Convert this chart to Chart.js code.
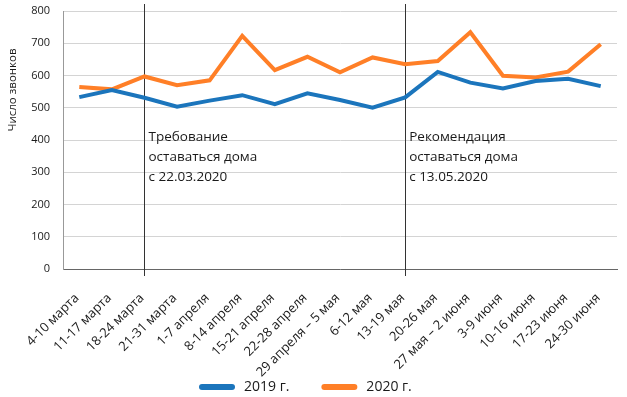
<!DOCTYPE html>
<html>
<head>
<meta charset="utf-8">
<script src="https://cdn.jsdelivr.net/npm/chart.js@4.4.1/dist/chart.umd.min.js"></script>
<style>
  html, body { margin: 0; padding: 0; background: #ffffff; }
  #wrap { width: 627px; height: 397px; }
</style>
</head>
<body>
<div id="wrap"><canvas id="c" width="627" height="397"></canvas></div>
<script>
const categories = [
  '4-10 марта', '11-17 марта', '18-24 марта', '21-31 марта', '1-7 апреля',
  '8-14 апреля', '15-21 апреля', '22-28 апреля', '29 апреля – 5 мая', '6-12 мая',
  '13-19 мая', '20-26 мая', '27 мая – 2 июня', '3-9 июня', '10-16 июня',
  '17-23 июня', '24-30 июня'
];
const calls2019 = [533, 555, 531, 503, 522, 539, 511, 545, 524, 500, 532, 611, 578, 560, 583, 590, 567];
const calls2020 = [564, 557, 597, 570, 585, 723, 617, 658, 610, 656, 635, 645, 734, 599, 594, 612, 697];
const seriesNames = ['2019 г.', '2020 г.'];
const yTitle = 'Число звонков';
const markerIndices = [2, 10];
const markerTexts = [
  ['Требование', 'оставаться дома', 'с 22.03.2020'],
  ['Рекомендация', 'оставаться дома', 'с 13.05.2020']
];

const FONT = '"Open Sans", "DejaVu Sans", sans-serif';
const BLUE = '#1b75bc';
const ORANGE = '#ff7f27';
const TEXT = '#1a1a1a';

function roundRect(ctx, x, y, w, h, r) {
  ctx.beginPath();
  ctx.moveTo(x + r, y);
  ctx.lineTo(x + w - r, y);
  ctx.arc(x + w - r, y + r, r, -Math.PI / 2, Math.PI / 2);
  ctx.lineTo(x + r, y + h);
  ctx.arc(x + r, y + r, r, Math.PI / 2, Math.PI * 1.5);
  ctx.closePath();
}

const markerPlugin = {
  id: 'markers',
  beforeDatasetsDraw(chart) {
    const ctx = chart.ctx;
    const xs = chart.scales.x;
    const area = chart.chartArea;
    ctx.save();
    ctx.strokeStyle = '#333333';
    ctx.lineWidth = 1;
    markerIndices.forEach((idx) => {
      const x = Math.round(xs.getPixelForValue(idx)) + 0.5;
      ctx.beginPath();
      ctx.moveTo(x, area.top - 7);
      ctx.lineTo(x, area.bottom + 7);
      ctx.stroke();
    });
    ctx.restore();
  },
  afterDraw(chart) {
    const ctx = chart.ctx;
    const xs = chart.scales.x;
    const area = chart.chartArea;
    ctx.save();
    ctx.fillStyle = TEXT;
    ctx.font = '13.5px ' + FONT;
    ctx.textBaseline = 'alphabetic';
    ctx.textAlign = 'left';
    markerIndices.forEach((idx, k) => {
      const x = xs.getPixelForValue(idx) + 4;
      markerTexts[k].forEach((line, j) => {
        ctx.fillText(line, x, area.top + 130 + j * 20);
      });
    });
    ctx.restore();

    // y axis title
    ctx.save();
    ctx.translate(13, 90);
    ctx.rotate(-Math.PI / 2);
    ctx.textAlign = 'center';
    ctx.textBaseline = 'middle';
    ctx.font = '11.5px ' + FONT;
    ctx.fillStyle = TEXT;
    ctx.fillText(yTitle, 0, 0);
    ctx.restore();

    // legend
    ctx.save();
    ctx.font = '14px ' + FONT;
    ctx.textBaseline = 'middle';
    ctx.textAlign = 'left';
    const cy = 387;
    const sw = 36, gap = 9, itemGap = 32;
    const items = chart.data.datasets.map((ds) => ({
      text: ds.label, color: ds.borderColor,
      w: sw + gap + ctx.measureText(ds.label).width
    }));
    const total = items.reduce((s, it) => s + it.w, 0) + itemGap * (items.length - 1);
    let x = Math.round((area.left + area.right) / 2 - total / 2) - 35;
    items.forEach((it) => {
      ctx.fillStyle = it.color;
      roundRect(ctx, x, cy - 3, sw, 6, 3);
      ctx.fill();
      ctx.fillStyle = TEXT;
      ctx.fillText(it.text, x + sw + gap, cy);
      x += it.w + itemGap;
    });
    ctx.restore();
  }
};

new Chart(document.getElementById('c'), {
  type: 'line',
  data: {
    labels: categories,
    datasets: [
      {
        label: seriesNames[0],
        data: calls2019,
        borderColor: BLUE,
        backgroundColor: BLUE,
        borderWidth: 4,
        pointRadius: 0,
        tension: 0,
        fill: false
      },
      {
        label: seriesNames[1],
        data: calls2020,
        borderColor: ORANGE,
        backgroundColor: ORANGE,
        borderWidth: 4,
        pointRadius: 0,
        tension: 0,
        fill: false
      }
    ]
  },
  options: {
    responsive: false,
    animation: false,
    devicePixelRatio: 1,
    layout: { padding: { top: 11, right: 10, bottom: 0, left: 0 } },
    plugins: {
      tooltip: { enabled: false },
      title: { display: false },
      legend: { display: false }
    },
    scales: {
      x: {
        offset: true,
        grid: { display: false, drawTicks: false },
        border: { display: true, color: '#666666', width: 1 },
        ticks: {
          autoSkip: false,
          minRotation: 45,
          maxRotation: 45,
          padding: 19,
          color: TEXT,
          font: { family: FONT, size: 13 },
          callback(value, index) { return categories[index] + ' '; }
        },
        afterFit(scale) {
          scale.height = 128;
          scale.paddingRight = 0;
          scale.paddingLeft = 0;
        }
      },
      y: {
        min: 0,
        max: 800,
        grid: { color: '#d4d4d4', drawTicks: false, lineWidth: 1 },
        border: { display: true, color: '#999999', width: 1 },
        ticks: {
          stepSize: 100,
          padding: 13,
          color: TEXT,
          font: { family: FONT, size: 11 }
        },
        title: { display: false },
        afterFit(scale) {
          scale.width = 63;
          scale.paddingTop = 0;
          scale.paddingBottom = 0;
        }
      }
    }
  },
  plugins: [markerPlugin]
});
</script>
</body>
</html>
